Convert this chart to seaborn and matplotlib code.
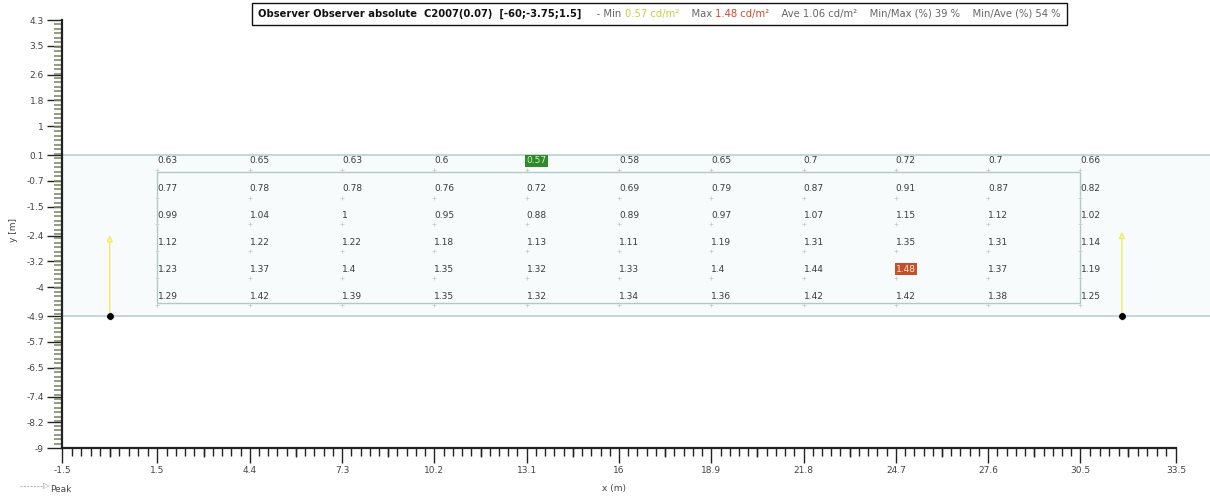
import numpy as np
import pandas as pd
import matplotlib
matplotlib.use('Agg')
import matplotlib.pyplot as plt
import seaborn as sns
from matplotlib.lines import Line2D
from matplotlib.offsetbox import TextArea, HPacker, AnchoredOffsetbox
import matplotlib.transforms as mtransforms

sns.set_style('white')
plt.rcParams['font.family'] = ['DejaVu Sans']

# axis ticks as printed
x_ticks = [-1.5, 1.5, 4.4, 7.3, 10.2, 13.1, 16, 18.9, 21.8, 24.7, 27.6, 30.5, 33.5]
y_ticks = [4.3, 3.5, 2.6, 1.8, 1, 0.1, -0.7, -1.5, -2.4, -3.2, -4, -4.9, -5.7, -6.5, -7.4, -8.2, -9]

# calculation grid
grid_x = [1.5, 4.4, 7.3, 10.2, 13.1, 16, 18.9, 21.8, 24.7, 27.6, 30.5]
grid_y = [-0.08, -0.95, -1.76, -2.60, -3.44, -4.28]
lum = [
    [0.63, 0.65, 0.63, 0.6, 0.57, 0.58, 0.65, 0.7, 0.72, 0.7, 0.66],
    [0.77, 0.78, 0.78, 0.76, 0.72, 0.69, 0.79, 0.87, 0.91, 0.87, 0.82],
    [0.99, 1.04, 1, 0.95, 0.88, 0.89, 0.97, 1.07, 1.15, 1.12, 1.02],
    [1.12, 1.22, 1.22, 1.18, 1.13, 1.11, 1.19, 1.31, 1.35, 1.31, 1.14],
    [1.23, 1.37, 1.4, 1.35, 1.32, 1.33, 1.4, 1.44, 1.48, 1.37, 1.19],
    [1.29, 1.42, 1.39, 1.35, 1.32, 1.34, 1.36, 1.42, 1.42, 1.38, 1.25],
]

# road edges, calculation field, observers
road_y = [0.1, -4.9]
field_x = [1.5, 30.5]
field_y = [-0.42, -4.49]
obs_x = [0.0, 31.8]
obs_y = [-4.9, -4.9]
obs_top = [-2.3, -2.2]

df = pd.DataFrame([(gx, gy, lum[i][j]) for i, gy in enumerate(grid_y)
                   for j, gx in enumerate(grid_x)], columns=['x', 'y', 'L'])
vmin, vmax = df['L'].min(), df['L'].max()

fig = plt.figure(figsize=(12.1, 4.97), dpi=100)
ax = fig.add_axes([62/1210, 49/497, 1 - 62/1210, 428/497])
ax.set_xlim(-1.5, 34.57)
ax.set_ylim(-9, 4.3)

# road
ax.axhspan(road_y[1], road_y[0], color='#f7fbfb', zorder=0)
for ry in road_y:
    ax.axhline(ry, color='#bcd0d0', lw=1.2, zorder=1)
ax.plot([field_x[0], field_x[1], field_x[1], field_x[0], field_x[0]],
        [field_y[0], field_y[0], field_y[1], field_y[1], field_y[0]],
        color='#b0c8c8', lw=1, zorder=1)

# grid points
sns.scatterplot(data=df.assign(y=df['y'] - 0.28), x='x', y='y', marker='+',
                s=10, color='#cccccc', linewidth=0.6, legend=False, ax=ax, zorder=2)

for _, r in df.iterrows():
    txt = f"{r['L']:g}"
    if r['L'] == vmin:
        ax.text(r['x'], r['y'], txt, fontsize=6.5, color='#d8f0c0', ha='left', va='center',
                bbox=dict(boxstyle='square,pad=0.15', fc='#2f8a2a', ec='none'), zorder=4)
    elif r['L'] == vmax:
        ax.text(r['x'], r['y'], txt, fontsize=6.5, color='#ffe8d8', ha='left', va='center',
                bbox=dict(boxstyle='square,pad=0.15', fc='#c4502a', ec='none'), zorder=4)
    else:
        ax.text(r['x'], r['y'], txt, fontsize=6.5, color='#3a3a3a', ha='left', va='center', zorder=4)

# observers
for ox, oy, ot in zip(obs_x, obs_y, obs_top):
    ax.annotate('', xy=(ox, ot), xytext=(ox, oy),
                arrowprops=dict(arrowstyle='-|>', color='#f0ec60', lw=1.0,
                                mutation_scale=9, fc='#fbf9c8'), zorder=3)
sns.scatterplot(x=obs_x, y=obs_y, color='black', s=30, ax=ax, zorder=5, legend=False)

# axes styling
for s in ['top', 'right']:
    ax.spines[s].set_visible(False)
ax.spines['left'].set_bounds(-9, 4.3)
ax.spines['bottom'].set_bounds(-1.5, 33.5)
ax.spines['left'].set_linewidth(1.6)
ax.spines['bottom'].set_linewidth(1.6)
ax.spines['left'].set_color('#222222')
ax.spines['bottom'].set_color('#222222')

ax.set_xticks(x_ticks)
ax.set_xticklabels([f"{v:g}" for v in x_ticks])
ax.set_yticks(y_ticks)
ax.set_yticklabels([f"{v:g}" for v in y_ticks])
x_minor = np.concatenate([np.linspace(a, b, 11)[1:-1] for a, b in zip(x_ticks[:-1], x_ticks[1:])])
ax.set_xticks(x_minor, minor=True)
ax.set_yticks(np.linspace(-9, 4.3, 16 * 6 + 1), minor=True)
ax.tick_params(bottom=True, left=True, which='both', direction='out')
ax.tick_params(axis='both', which='major', labelsize=6.5, labelcolor='#444444',
               length=11, width=1.0, color='#222222', pad=2)
ax.tick_params(axis='x', which='minor', length=6, width=1.0, color='#222222')
ax.tick_params(axis='y', which='minor', length=6, width=1.2, color='#7f8c6a')

# longer mid ticks on x
mids = [(a + b) / 2 for a, b in zip(x_ticks[:-1], x_ticks[1:])]
trans = mtransforms.blended_transform_factory(ax.transData, ax.transAxes)
ax.vlines(mids, -0.022, 0, transform=trans, color='#222222', lw=1.0, clip_on=False)

ax.set_xlabel('x (m)', fontsize=6.5, color='#444444', labelpad=0)
ax.xaxis.set_label_coords((16 + 1.5) / (34.57 + 1.5) - 0.004, -0.085)
ax.set_ylabel('y [m]', fontsize=6.5, color='#444444', labelpad=2)
ax.yaxis.set_label_coords(-0.038, 0.51)

# title box
parts = [
    ('Observer Observer absolute  C2007(0.07)  [-60;-3.75;1.5]', '#111111', 'bold'),
    ('     - Min ', '#666666', 'normal'),
    ('0.57 cd/m²', '#c8d040', 'normal'),
    ('    Max ', '#666666', 'normal'),
    ('1.48 cd/m²', '#d04a2a', 'normal'),
    ('    Ave 1.06 cd/m²    Min/Max (%) 39 %    Min/Ave (%) 54 %', '#666666', 'normal'),
]
areas = [TextArea(t, textprops=dict(color=c, fontsize=7.2, fontweight=w)) for t, c, w in parts]
box = HPacker(children=areas, align='baseline', pad=0, sep=0)
ab = AnchoredOffsetbox(loc='center', child=box, pad=0.12, frameon=True,
                       bbox_to_anchor=(0.545, 0.972), bbox_transform=fig.transFigure,
                       borderpad=0)
ab.patch.set_edgecolor('#111111')
ab.patch.set_linewidth(1.0)
ab.patch.set_boxstyle('square')
fig.add_artist(ab)

# peak legend
fig.add_artist(Line2D([20/1210, 44/1210], [1 - 486/497, 1 - 486/497], color='#bbbbbb',
                      lw=0.8, linestyle=(0, (2, 1)), transform=fig.transFigure))
fig.text(43/1210, 1 - 486/497, '▷', fontsize=6, color='#999999', va='center')
fig.text(50/1210, 1 - 490/497, 'Peak', fontsize=6.5, color='#444444', va='center')

fig.savefig('out.png', dpi=100)
